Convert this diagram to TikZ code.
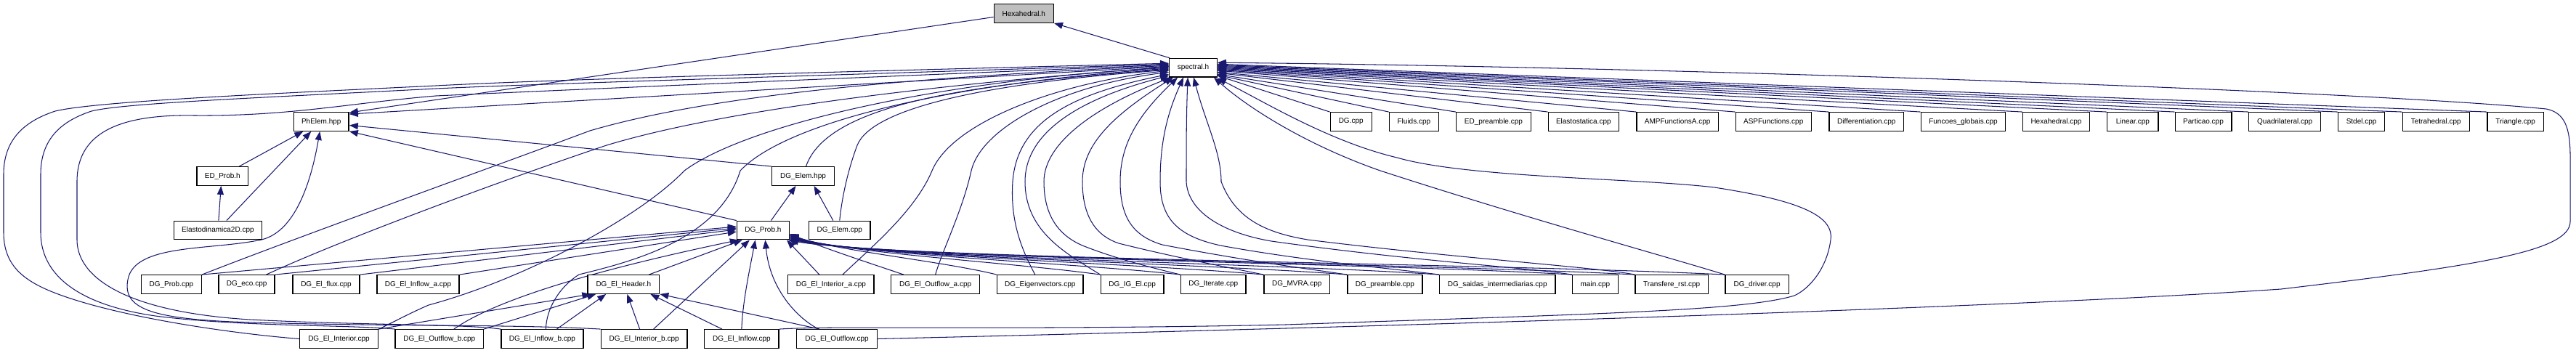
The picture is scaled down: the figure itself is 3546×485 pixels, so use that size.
\documentclass[tikz,border=0pt]{standalone}
\usepackage{fontspec}
\setmainfont{Liberation Sans}
\usetikzlibrary{arrows.meta}
\definecolor{edgec}{HTML}{191970}
\definecolor{rootfill}{HTML}{BFBFBF}
\pgfdeclarelayer{bg}
\pgfsetlayers{bg,main}
\begin{document}
\begin{tikzpicture}[x=1pt,y=-1pt,
  box/.style={draw=black, line width=1.35pt, fill=white, minimum height=25.5pt, inner sep=0pt, font=\fontsize{10}{12}\selectfont},
  dep/.style={draw=edgec, line width=1.05pt, line join=round, {Triangle[length=12pt,width=9pt]}-}]
\useasboundingbox (0,0) rectangle (3546,485);
% rank 0,1
\node[box,fill=rootfill,minimum width=82pt] (hexa) at (1409.3,18.5) {Hexahedral.h};
\node[box,minimum width=65.5pt] (spec) at (1642.5,93.2) {spectral.h};
% rank 2
\node[box,minimum width=75.7pt] (phelem) at (442.3,167.5) {PhElem.hpp};
\node[box,minimum width=57pt] (dgcpp) at (1859.7,167.5) {DG.cpp};
\node[box,minimum width=68.2pt] (fluids) at (1946.4,167.5) {Fluids.cpp};
\node[box,minimum width=102.5pt] (edpre) at (2055.9,167.5) {ED\_preamble.cpp};
\node[box,minimum width=97.2pt] (elastos) at (2179.8,167.5) {Elastostatica.cpp};
\node[box,minimum width=112.5pt] (ampf) at (2309.2,167.5) {AMPFunctionsA.cpp};
\node[box,minimum width=104.1pt] (aspf) at (2441.2,167.5) {ASPFunctions.cpp};
\node[box,minimum width=102.6pt] (diff) at (2569.3,167.5) {Differentiation.cpp};
\node[box,minimum width=116.3pt] (funcg) at (2702.5,167.5) {Funcoes\_globais.cpp};
\node[box,minimum width=92.2pt] (hexcpp) at (2830.5,167.5) {Hexahedral.cpp};
\node[box,minimum width=70.2pt] (linear) at (2935.8,167.5) {Linear.cpp};
\node[box,minimum width=77.7pt] (partic) at (3033,167.5) {Particao.cpp};
\node[box,minimum width=99.1pt] (quad) at (3145.2,167.5) {Quadrilateral.cpp};
\node[box,minimum width=64.3pt] (stdel) at (3250.6,167.5) {Stdel.cpp};
\node[box,minimum width=92.2pt] (tetra) at (3353.3,167.5) {Tetrahedral.cpp};
\node[box,minimum width=77.3pt] (tri) at (3462.6,167.5) {Triangle.cpp};
% rank 3
\node[box,minimum width=70.8pt] (edprob) at (306.3,242.5) {ED\_Prob.h};
\node[box,minimum width=85.7pt] (dgelemh) at (1105.5,242.5) {DG\_Elem.hpp};
% rank 4
\node[box,minimum width=121.3pt] (elasto) at (299.9,317) {Elastodinamica2D.cpp};
\node[box,minimum width=71.9pt] (dgprobh) at (1050.4,317) {DG\_Prob.h};
\node[box,minimum width=84.5pt] (dgelemc) at (1155.8,317) {DG\_Elem.cpp};
% rank 5
\node[box,minimum width=83pt] (dgprobc) at (235.9,391.5) {DG\_Prob.cpp};
\node[box,minimum width=77pt] (dgeco) at (339.6,391.5) {DG\_eco.cpp};
\node[box,minimum width=92.3pt] (deflux) at (449,391.5) {DG\_El\_flux.cpp};
\node[box,minimum width=113.2pt] (deinfa) at (575.5,391.5) {DG\_El\_Inflow\_a.cpp};
\node[box,minimum width=98.7pt] (dehead) at (858.3,391.5) {DG\_El\_Header.h};
\node[box,minimum width=118.2pt] (deinta) at (1143.9,391.5) {DG\_El\_Interior\_a.cpp};
\node[box,minimum width=122pt] (deouta) at (1287.7,391.5) {DG\_El\_Outflow\_a.cpp};
\node[box,minimum width=118.6pt] (deig) at (1431.8,391.5) {DG\_Eigenvectors.cpp};
\node[box,minimum width=86.8pt] (digel) at (1558.6,391.5) {DG\_IG\_El.cpp};
\node[box,minimum width=89.5pt] (diter) at (1670.2,391.5) {DG\_Iterate.cpp};
\node[box,minimum width=90.7pt] (dmvra) at (1785.2,391.5) {DG\_MVRA.cpp};
\node[box,minimum width=103pt] (dpre) at (1906.4,391.5) {DG\_preamble.cpp};
\node[box,minimum width=159.2pt] (dsaid) at (2061.2,391.5) {DG\_saidas\_intermediarias.cpp};
\node[box,minimum width=62.8pt] (mainc) at (2195.9,391.5) {main.cpp};
\node[box,minimum width=100.3pt] (transf) at (2301.2,391.5) {Transfere\_rst.cpp};
\node[box,minimum width=87.3pt] (drv) at (2418.6,391.5) {DG\_driver.cpp};
% rank 6
\node[box,minimum width=108pt] (deint) at (466.5,466.5) {DG\_El\_Interior.cpp};
\node[box,minimum width=121.3pt] (deoutb) at (604.8,466.5) {DG\_El\_Outflow\_b.cpp};
\node[box,minimum width=112.9pt] (deinfb) at (746.4,466.5) {DG\_El\_Inflow\_b.cpp};
\node[box,minimum width=118.7pt] (deintb) at (886.6,466.5) {DG\_El\_Interior\_b.cpp};
\node[box,minimum width=102.5pt] (deinf) at (1020.9,466.5) {DG\_El\_Inflow.cpp};
\node[box,minimum width=111pt] (deout) at (1152.1,466.5) {DG\_El\_Outflow.cpp};

\begin{pgfonlayer}{bg}
\fill[white] (0,0) rectangle (3546,485);
% root and PhElem.hpp
\draw[dep] (hexa.south east) -- ([xshift=1pt]spec.north west);
\draw[dep] ([yshift=-1pt]phelem.north east) -- ([yshift=-5pt]hexa.west);
\draw[dep] ([yshift=-3pt]phelem.north east) -- ([yshift=2pt]spec.west);
\draw[dep] ([yshift=-5pt]phelem.east) -- (dgelemh.north west);
\draw[dep] (phelem.south east) -- (dgprobh.north west);
\draw[dep] ([xshift=-25pt]phelem.south) -- ([xshift=23pt]edprob.north);
\draw[dep] ([xshift=-14pt]phelem.south) -- ([xshift=12pt]elasto.north);
\draw[dep] ([xshift=-2pt]phelem.south) .. controls (430,240) and (410,318) .. (360,330) .. controls (290,345) and (185,335) .. (176,385) .. controls (168,425) and (210,438) .. (320,443) .. controls (520,450) and (700,446) .. (deintb.north west);
\draw[dep] ([xshift=-2pt]edprob.south) -- ([xshift=1pt]elasto.north);
% top row into spectral.h
\foreach \n/\d in {tri/5, tetra/4, stdel/3, quad/2, partic/1, linear/0, hexcpp/-1, funcg/-2, diff/-3, aspf/-4, ampf/-6, elastos/-7, edpre/-9, fluids/-10, dgcpp/-11}
  \draw[dep] ([yshift=\d pt]spec.east) -- (\n.north west);
% far right loop
\draw[dep] ([yshift=7pt]spec.east) .. controls (2300,92) and (3250,125) .. (3505,150) .. controls (3530,155) and (3538,175) .. (3538,215) -- (3538,305) .. controls (3538,345) and (3420,365) .. (3140,398) .. controls (2700,428) and (1700,455) .. (deout.east);
% loop around DG_driver.cpp
\draw[dep] ([yshift=-1pt]spec.south east) .. controls (1740,140) and (1830,195) .. (1923,217) .. controls (2020,245) and (2250,245) .. (2360,258) .. controls (2470,275) and (2525,295) .. (2520,330) .. controls (2515,370) and (2490,398) .. (2470,407) .. controls (2400,428) and (2200,432) .. (1770,447) .. controls (1400,455) and (1150,448) .. (deinf.north east);
% diagonal to DG_driver.cpp
\draw[dep] ([xshift=-5pt]spec.south east) .. controls (1720,150) and (1800,200) .. (1900,235) .. controls (2100,300) and (2300,355) .. (drv.north west);
% spectral.h down to rank 5
\draw[dep] ([yshift=-4pt]spec.west) .. controls (1450,115) and (1310,170) .. (1283,235) .. controls (1260,290) and (1200,340) .. ([xshift=16pt]deinta.north);
\draw[dep] ([yshift=-6pt]spec.west) .. controls (1450,120) and (1350,180) .. (1337,235) .. controls (1325,290) and (1295,350) .. (deouta.north);
\draw[dep] ([yshift=-9pt]spec.west) .. controls (1470,130) and (1400,170) .. (1394,250) .. controls (1390,310) and (1410,350) .. ([xshift=-7pt]deig.north);
\draw[dep] ([yshift=-11pt]spec.west) .. controls (1470,140) and (1411,190) .. (1411,250) .. controls (1411,320) and (1470,350) .. (digel.north west);
\draw[dep] ([xshift=3pt]spec.south west) .. controls (1500,150) and (1437,200) .. (1437,250) .. controls (1437,300) and (1460,325) .. (1490,338) .. controls (1540,358) and (1600,372) .. (diter.north west);
\draw[dep] ([xshift=6pt]spec.south west) .. controls (1530,160) and (1490,200) .. (1490,250) .. controls (1490,300) and (1510,325) .. (1540,335) .. controls (1620,355) and (1700,370) .. (dmvra.north west);
\draw[dep] ([xshift=12pt]spec.south west) .. controls (1565,160) and (1542,200) .. (1542,250) .. controls (1542,300) and (1560,325) .. (1600,337) .. controls (1720,360) and (1800,370) .. (dpre.north west);
\draw[dep] ([xshift=20pt]spec.south west) .. controls (1605,160) and (1597,200) .. (1597,250) .. controls (1597,300) and (1620,325) .. (1680,338) .. controls (1800,360) and (1920,370) .. (dsaid.north west);
\draw[dep] ([xshift=26pt]spec.south west) .. controls (1633,160) and (1633,200) .. (1633,250) .. controls (1635,290) and (1680,320) .. (1750,332) .. controls (1950,360) and (2100,368) .. (mainc.north west);
\draw[dep] ([xshift=34pt]spec.south west) .. controls (1660,170) and (1681,210) .. (1681,250) .. controls (1700,300) and (1740,320) .. (1800,330) .. controls (2000,355) and (2200,368) .. (transf.north west);
% spectral.h to the left side
\draw[dep] ([yshift=6pt]spec.west) .. controls (1100,100) and (750,110) .. (600,118) .. controls (350,130) and (130,140) .. (76,153) .. controls (30,168) and (5,195) .. (5,240) -- (5,320) .. controls (5,375) and (45,395) .. (110,415) .. controls (200,442) and (330,460) .. (deint.west);
\draw[dep] ([yshift=5pt]spec.west) .. controls (1100,105) and (750,115) .. (600,122) .. controls (350,135) and (170,142) .. (126,153) .. controls (80,168) and (56,195) .. (56,240) -- (56,320) .. controls (56,380) and (110,420) .. (214,435) .. controls (330,450) and (480,447) .. (deoutb.north west);
\draw[dep] ([yshift=4pt]spec.west) .. controls (1100,110) and (750,125) .. (600,132) .. controls (480,142) and (400,160) .. (268,159) .. controls (160,157) and (106,185) .. (106,250) -- (106,330) .. controls (106,385) and (180,430) .. (344,440) .. controls (500,448) and (640,446) .. (deinfb.north west);
\draw[dep] ([yshift=3pt]spec.west) .. controls (1300,105) and (1000,125) .. (812,180) .. controls (700,222) and (400,330) .. (dgprobc.north east);
\draw[dep] ([yshift=1pt]spec.west) .. controls (1300,115) and (1000,150) .. (835,200) .. controls (700,245) and (470,330) .. ([xshift=27pt]dgeco.north);
\draw[dep] (spec.west) .. controls (1300,110) and (1030,170) .. (942,235) .. controls (880,300) and (720,385) .. (590,420) .. controls (560,433) and (535,447) .. (deint.north east);
\draw[dep] ([yshift=-1pt]spec.west) .. controls (1300,115) and (1080,170) .. (1019,235) .. controls (990,330) and (870,360) .. (797,378) .. controls (770,395) and (752,425) .. ([xshift=5pt]deinfb.north);
\draw[dep] ([yshift=-2pt]spec.west) .. controls (1350,115) and (1140,140) .. ([xshift=4pt]dgelemh.north);
\draw[dep] ([yshift=-3pt]spec.west) .. controls (1350,115) and (1200,150) .. (1180,200) .. controls (1165,240) and (1158,280) .. (dgelemc.north);
% into DG_Prob.h from the left
\draw[dep] ([yshift=5pt]dgprobh.west) -- (dgprobc.north east);
\draw[dep] ([yshift=3pt]dgprobh.west) -- (dgeco.north east);
\draw[dep] ([yshift=1pt]dgprobh.west) -- (deflux.north east);
\draw[dep] ([yshift=-2pt]dgprobh.west) -- (deinfa.north east);
\draw[dep] ([xshift=3pt]dgprobh.south west) .. controls (900,355) and (700,400) .. ([xshift=20pt]deoutb.north);
\draw[dep] ([xshift=8pt]dgprobh.south west) -- ([xshift=-15pt]dehead.north east);
\draw[dep] ([xshift=18pt]dgprobh.south west) -- ([xshift=13pt]deintb.north);
\draw[dep] ([xshift=26pt]dgprobh.south west) .. controls (1030,380) and (1022,420) .. (deinf.north);
\draw[dep] ([xshift=3pt]dgprobh.south) .. controls (1060,400) and (1100,440) .. ([xshift=-25pt]deout.north);
\draw[dep] ([xshift=-4pt]dgprobh.south east) -- ([xshift=-16pt]deinta.north);
% out of DG_Prob.h to the right
\draw[dep] ([yshift=-5pt]dgprobh.east) .. controls (1130,340) and (1190,360) .. ([xshift=18pt]deouta.north west);
\draw[dep] ([yshift=-6pt]dgprobh.east) .. controls (1150,345) and (1300,360) .. (deig.north west);
\draw[dep] ([yshift=-7pt]dgprobh.east) .. controls (1160,348) and (1400,362) .. (digel.north west);
\draw[dep] ([yshift=-8pt]dgprobh.east) .. controls (1170,350) and (1480,362) .. (diter.north west);
\draw[dep] ([yshift=-9pt]dgprobh.east) .. controls (1180,352) and (1560,362) .. (dmvra.north west);
\draw[dep] ([yshift=-10pt]dgprobh.east) .. controls (1190,354) and (1650,362) .. (dpre.north west);
\draw[dep] ([yshift=-11pt]dgprobh.east) .. controls (1200,355) and (1750,362) .. (dsaid.north west);
\draw[dep] ([yshift=-12pt]dgprobh.east) .. controls (1210,356) and (1900,362) .. (mainc.north west);
\draw[dep] (dgprobh.south east) .. controls (1220,356) and (1950,362) .. (transf.north west);
\draw[dep] ([xshift=-2pt]dgprobh.south east) .. controls (1230,357) and (2050,362) .. (drv.north west);
% into DG_El_Header.h
\draw[dep] ([xshift=5pt]dehead.south west) -- (deint.north east);
\draw[dep] ([xshift=12pt]dehead.south west) -- (deoutb.north east);
\draw[dep] ([xshift=26pt]dehead.south west) -- ([xshift=20pt]deinfb.north);
\draw[dep] ([xshift=5pt]dehead.south) -- ([xshift=-6pt]deintb.north);
\draw[dep] ([xshift=-13pt]dehead.south east) -- ([xshift=-27pt]deinf.north);
\draw[dep] (dehead.south east) -- ([xshift=-24pt]deout.north);
% into DG_Elem.hpp
\draw[dep] ([xshift=-10pt]dgelemh.south) -- ([xshift=11pt]dgprobh.north);
\draw[dep] ([xshift=15pt]dgelemh.south) -- ([xshift=-9pt]dgelemc.north);
\end{pgfonlayer}
\end{tikzpicture}
\end{document}
